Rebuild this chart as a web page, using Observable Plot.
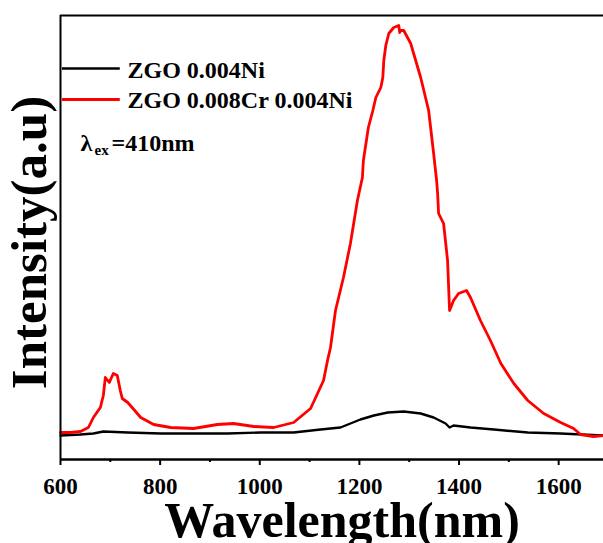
<!DOCTYPE html>
<html>
<head>
<meta charset="utf-8">
<script src="https://cdn.jsdelivr.net/npm/d3@7"></script>
<script src="https://cdn.jsdelivr.net/npm/@observablehq/plot@0.6"></script>
<style>
  html, body { margin: 0; padding: 0; background: #fff; }
  svg { display: block; }
</style>
</head>
<body>
<div id="chart"></div>
<script>
// ---- data ----
const seriesNames = ["ZGO 0.004Ni", "ZGO 0.008Cr 0.004Ni"];
const seriesColors = ["#000000", "#ff0000"];

const wavelengthNi = [600, 640, 666, 686, 735, 801, 867, 935, 1002, 1068, 1122, 1162, 1202, 1229, 1257, 1289, 1323, 1349, 1373, 1381, 1389, 1423, 1470, 1538, 1604, 1690];
const intensityNi  = [24, 25, 26, 28, 27, 26, 26, 26, 27, 27, 30, 32, 40, 44, 47, 48, 46, 42, 36, 32, 34, 32, 30, 27, 26, 24];

const wavelengthCrNi = [600, 620, 640, 656, 666, 680, 686, 690, 698, 706, 714, 720, 724, 735, 749, 761, 787, 821, 867, 915, 947, 988, 1028, 1068, 1102, 1128, 1136, 1142, 1152, 1168, 1182, 1196, 1206, 1208, 1218, 1227, 1233, 1243, 1247, 1249, 1253, 1259, 1269, 1279, 1281, 1283, 1289, 1303, 1313, 1323, 1339, 1349, 1355, 1357, 1359, 1369, 1377, 1381, 1389, 1399, 1415, 1423, 1443, 1463, 1484, 1510, 1538, 1570, 1604, 1630, 1644, 1670, 1690];
const intensityCrNi  = [27, 27, 28, 32, 42, 52, 64, 82, 77, 86, 84, 69, 61, 57, 49, 42, 35, 32, 31, 35, 36, 33, 32, 37, 51, 79, 99, 112, 149, 182, 216, 259, 282, 299, 332, 349, 362, 372, 382, 399, 414, 426, 432, 434, 427, 429, 429, 416, 399, 382, 349, 306, 279, 266, 246, 236, 199, 149, 159, 166, 169, 162, 139, 119, 96, 76, 59, 46, 37, 31, 25, 23, 24];

const majorTicks = [600, 800, 1000, 1200, 1400, 1600];
const minorTicks = [700, 900, 1100, 1300, 1500];
const xTitle = "Wavelength(nm)";
const yTitle = "Intensity(a.u)";
const excitation = ["λ", "ex", "=410nm"];

const X_MIN = 600, X_MAX = 1690;
const Y_MIN = 0, Y_MAX = 444;

const ni = wavelengthNi.map((x, i) => ({x, y: intensityNi[i]}));
const crni = wavelengthCrNi.map((x, i) => ({x, y: intensityCrNi[i]}));

const FONT = "'Liberation Serif', 'Times New Roman', serif";

const chart = Plot.plot({
  width: 603,
  height: 543,
  marginLeft: 60,
  marginRight: 0,
  marginTop: 15,
  marginBottom: 84,
  style: {fontFamily: FONT, background: "#fff", color: "#000"},
  x: {domain: [X_MIN, X_MAX], label: null},
  y: {domain: [Y_MIN, Y_MAX], axis: null, label: null},
  marks: [
    Plot.line(ni, {x: "x", y: "y", stroke: seriesColors[0], strokeWidth: 2.4}),
    Plot.line(crni, {x: "x", y: "y", stroke: seriesColors[1], strokeWidth: 2.8}),
    // frame: top, left, bottom
    Plot.ruleY([Y_MAX], {stroke: "#000", strokeWidth: 2}),
    Plot.ruleX([X_MIN], {stroke: "#000", strokeWidth: 2}),
    Plot.ruleY([Y_MIN], {stroke: "#000", strokeWidth: 2.4}),
    Plot.axisX(majorTicks, {tickSize: 6, tickPadding: 12, strokeWidth: 2, fontSize: 23, fontWeight: "bold", tickFormat: d => String(d), label: null}),
    Plot.axisX(minorTicks, {tickSize: 3, strokeWidth: 2, fill: "none", label: null}),
    // axis titles
    Plot.text([xTitle], {frameAnchor: "bottom", dy: 61, dx: 10, fontSize: 50, fontWeight: "bold", textAnchor: "middle", lineAnchor: "middle", fill: "#000"}),
    Plot.text([yTitle], {frameAnchor: "left", rotate: -90, dx: -31, dy: 5, fontSize: 51, fontWeight: "bold", textAnchor: "middle", lineAnchor: "middle", fill: "#000"}),
    // legend
    Plot.ruleY([Y_MAX], {dy: 53, x1: 604, x2: 720, stroke: seriesColors[0], strokeWidth: 2.6}),
    Plot.ruleY([Y_MAX], {dy: 84, x1: 604, x2: 720, stroke: seriesColors[1], strokeWidth: 2.8}),
    Plot.text([seriesNames[0]], {frameAnchor: "top-left", dx: 67, dy: 54.5, textAnchor: "start", lineAnchor: "middle", fontSize: 24, fontWeight: "bold", fill: "#000"}),
    Plot.text([seriesNames[1]], {frameAnchor: "top-left", dx: 67, dy: 84.5, textAnchor: "start", lineAnchor: "middle", fontSize: 24, fontWeight: "bold", fill: "#000"}),
    Plot.text([excitation[0]], {frameAnchor: "top-left", dx: 20, dy: 127.5, textAnchor: "start", lineAnchor: "middle", fontSize: 24, fontWeight: "bold", fill: "#000"}),
    Plot.text([excitation[1]], {frameAnchor: "top-left", dx: 34, dy: 135, textAnchor: "start", lineAnchor: "middle", fontSize: 15, fontWeight: "bold", fill: "#000"}),
    Plot.text([excitation[2]], {frameAnchor: "top-left", dx: 51, dy: 127.5, textAnchor: "start", lineAnchor: "middle", fontSize: 24, fontWeight: "bold", fill: "#000"})
  ]
});
document.getElementById("chart").appendChild(chart);
</script>
</body>
</html>
